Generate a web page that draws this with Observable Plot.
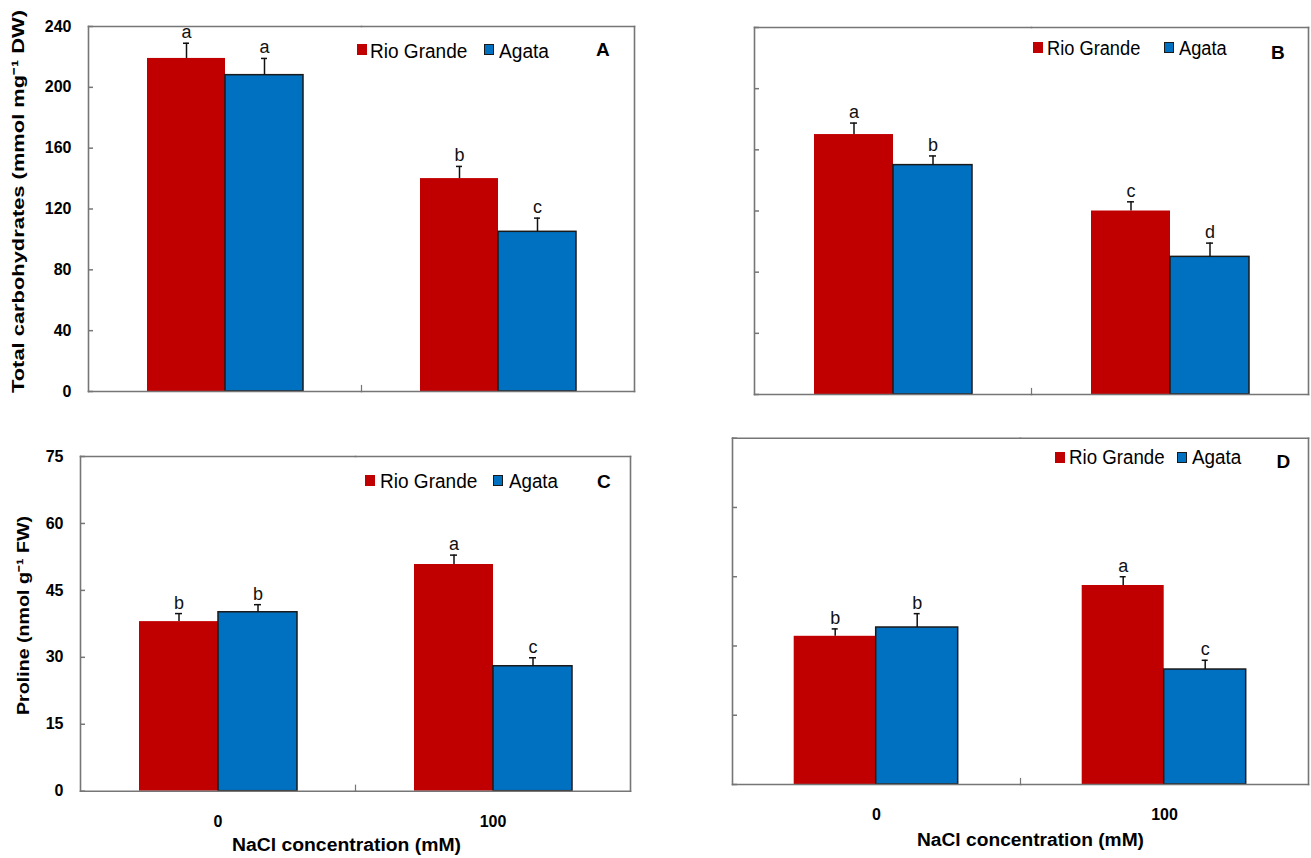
<!DOCTYPE html>
<html>
<head>
<meta charset="utf-8">
<script src="https://cdn.jsdelivr.net/npm/d3@7"></script>
<script src="https://cdn.jsdelivr.net/npm/@observablehq/plot@0.6"></script>
<style>
  body { margin: 0; background: #fff; }
  #root { position: relative; width: 1311px; height: 858px; overflow: hidden; background: #fff;
          font-family: 'Liberation Sans', Arial, sans-serif; }
  .pnl { position: absolute; }
  .pnl svg { display: block; max-width: none; }
</style>
</head>
<body>
<div id="root"></div>
<script>
// ---------------- data ----------------
const groups = ["0", "100"];                  // NaCl concentration (mM)
const cultivars = ["Rio Grande", "Agata"];
const colors = ["#C00000", "#0070C0"];

// order of values: [0 mM Rio Grande, 0 mM Agata, 100 mM Rio Grande, 100 mM Agata]
const carbA_mean = [219, 208, 140, 105];
const carbA_se   = [10, 11, 8, 9];
const carbA_letters = ["a", "a", "b", "c"];

const carbB_mean = [170, 150, 120, 90];
const carbB_se   = [7.5, 6, 6, 9];
const carbB_letters = ["a", "b", "c", "d"];

const proC_mean = [38.0, 40.1, 50.8, 28.0];
const proC_se   = [1.8, 1.7, 2.1, 1.9];
const proC_letters = ["b", "b", "a", "c"];

const proD_mean = [32.1, 34.0, 43.1, 24.9];
const proD_se   = [1.6, 3.0, 1.9, 2.0];
const proD_letters = ["b", "b", "a", "c"];

const carbTicks = [0, 40, 80, 120, 160, 200, 240];
const proTicks  = [0, 15, 30, 45, 60, 75];

const yTitleCarb = "Total carbohydrates (mmol mg\u207B\u00B9 DW)";
const yTitlePro  = "Proline (nmol g\u207B\u00B9 FW)";
const xTitle = "NaCl concentration (mM)";
const panelLetters = ["A", "B", "C", "D"];

// ---------------- helpers ----------------
const FONT = "'Liberation Sans', Arial, sans-serif";
const GRAY = "#767676";
const root = document.getElementById("root");

function rows(mean, se, letters) {
  return mean.map((m, i) => ({
    nacl: groups[Math.floor(i / 2)],
    cultivar: cultivars[i % 2],
    mean: m, se: se[i], letter: letters[i]
  }));
}

function panel(cfg) {
  const [mt, mr, mb, ml] = cfg.m;
  const plotH = cfg.height - mt - mb;
  const data = cfg.data;
  const marks = [
    Plot.barY(data, {filter: d => d.cultivar === cultivars[0], fx: "nacl", x: "cultivar", y: "mean", fill: "cultivar"}),
    Plot.barY(data, {filter: d => d.cultivar === cultivars[1], fx: "nacl", x: "cultivar", y: "mean", fill: "cultivar",
                     stroke: "#1a1a1a", strokeWidth: 1.5}),
    Plot.ruleX(data, {fx: "nacl", x: "cultivar", y1: "mean", y2: d => d.mean + d.se, stroke: "#111", strokeWidth: 1.5}),
    Plot.tickY(data, {fx: "nacl", x: "cultivar", y: d => d.mean + d.se, stroke: "#111", strokeWidth: 1.5,
                      insetLeft: cfg.cap, insetRight: cfg.cap}),
    Plot.text(data, {fx: "nacl", x: "cultivar", y: d => d.mean + d.se, text: "letter", lineAnchor: "bottom",
                     dy: -5, fontSize: 18, fill: "#111"}),
    Plot.axisY({ticks: cfg.ticks, tickSize: 5, dx: 5, fill: "none", stroke: GRAY, strokeWidth: 1.5, label: null}),
    Plot.frame({anchor: "top", stroke: GRAY, strokeWidth: 1.6, clip: false}),
    Plot.frame({anchor: "bottom", stroke: GRAY, strokeWidth: 1.6, clip: false}),
    Plot.frame({anchor: "left", fx: () => groups[0], stroke: GRAY, strokeWidth: 1.6, clip: false}),
    Plot.frame({anchor: "right", fx: () => groups[1], stroke: GRAY, strokeWidth: 1.6, clip: false}),
    Plot.frame({anchor: "right", fx: () => groups[0], insetTop: plotH - 6, stroke: GRAY, strokeWidth: 1.2, clip: false})
  ];
  if (cfg.yLabels) {
    marks.push(Plot.axisY({ticks: cfg.ticks, tickSize: 0, tickPadding: 17, fontSize: 16, fontWeight: "bold",
                           fill: "black", label: null}));
  }
  if (cfg.xLabels) {
    marks.push(Plot.axisFx({anchor: "bottom", tickSize: 0, tickPadding: 24, fontSize: 16, fontWeight: "bold",
                            fill: "black", label: null}));
  }
  const svg = Plot.plot({
    width: cfg.width, height: cfg.height,
    marginTop: mt, marginRight: mr, marginBottom: mb, marginLeft: ml,
    style: {fontFamily: FONT, background: "transparent", overflow: "visible"},
    fx: {domain: groups, padding: 0, axis: null},
    x: {domain: cultivars, paddingInner: 0, paddingOuter: 0.74, axis: null},
    y: {domain: cfg.domain, axis: null},
    color: {domain: cultivars, range: colors},
    marks
  });
  const div = document.createElement("div");
  div.className = "pnl";
  Object.assign(div.style, {left: cfg.left + "px", top: cfg.top + "px", width: cfg.width + "px", height: cfg.height + "px"});
  div.appendChild(svg);
  root.appendChild(div);
}

function addText(str, {x, baseline, size, weight = "normal", width = null, anchor = "start"}) {
  const el = document.createElement("div");
  el.textContent = str;
  Object.assign(el.style, {position: "absolute", whiteSpace: "nowrap", fontFamily: FONT, fontSize: size + "px",
    fontWeight: weight, lineHeight: "1", left: "0px", top: (baseline - 0.8465 * size) + "px",
    transformOrigin: "0 0", color: "#000"});
  root.appendChild(el);
  const w = el.getBoundingClientRect().width;
  const target = width || w;
  const left = anchor === "middle" ? x - target / 2 : x;
  el.style.left = left + "px";
  el.style.transform = `scaleX(${target / w})`;
}

function addVText(str, {cx, cy, size, weight = "bold", length}) {
  const el = document.createElement("div");
  el.textContent = str;
  Object.assign(el.style, {position: "absolute", whiteSpace: "nowrap", fontFamily: FONT, fontSize: size + "px",
    fontWeight: weight, lineHeight: "1", left: "0px", top: "0px", color: "#000"});
  root.appendChild(el);
  const w = el.getBoundingClientRect().width;
  el.style.left = (cx - 0.1 * size - w / 2) + "px";
  el.style.top = (cy - size / 2) + "px";
  el.style.transformOrigin = "50% 50%";
  el.style.transform = `rotate(-90deg) scaleX(${length / w})`;
}

function addSquare(x, y, color, border) {
  const el = document.createElement("div");
  Object.assign(el.style, {position: "absolute", left: x + "px", top: y + "px", width: "10px", height: border ? "11px" : "10.5px",
    background: color, boxSizing: "border-box", border: border ? "1px solid #1a1a1a" : "none"});
  root.appendChild(el);
}

function legend(L) {
  addSquare(L.rx, L.ry, colors[0], false);
  addText(cultivars[0], {x: L.rtx, baseline: L.bl, size: 20, width: L.rw});
  addSquare(L.bx, L.ry, colors[1], true);
  addText(cultivars[1], {x: L.btx, baseline: L.bl, size: 20, width: L.bw});
  addText(L.letter, {x: L.lx, baseline: L.lbl, size: 19, weight: "bold"});
}

// ---------------- panels ----------------
panel({data: rows(carbA_mean, carbA_se, carbA_letters), left: 0, top: 0, width: 660, height: 420,
       m: [26, 26, 29, 87], domain: [0, 240], ticks: carbTicks, yLabels: true, xLabels: false, cap: 36});
panel({data: rows(carbB_mean, carbB_se, carbB_letters), left: 660, top: 0, width: 651, height: 420,
       m: [27, 2.5, 26, 94], domain: [0, 240], ticks: carbTicks, yLabels: false, xLabels: false, cap: 36});
panel({data: rows(proC_mean, proC_se, proC_letters), left: 0, top: 430, width: 660, height: 428,
       m: [26, 29.5, 67.3, 79], domain: [0, 75], ticks: proTicks, yLabels: true, xLabels: true, cap: 36});
panel({data: rows(proD_mean, proD_se, proD_letters), left: 660, top: 430, width: 651, height: 428,
       m: [7.7, 2.5, 74, 72.3], domain: [0, 75], ticks: proTicks, yLabels: false, xLabels: true, cap: 38});

// legends and panel letters
legend({rx: 357.3, ry: 44.3, rtx: 370.2, rw: 97.3, bx: 484, btx: 498.5, bw: 50, bl: 57.7, letter: panelLetters[0], lx: 596, lbl: 56});
legend({rx: 1032.7, ry: 42, rtx: 1046.8, rw: 93.3, bx: 1164, btx: 1179, bw: 47.7, bl: 55.3, letter: panelLetters[1], lx: 1271, lbl: 58.7});
legend({rx: 365, ry: 475, rtx: 380.2, rw: 97.3, bx: 493.3, btx: 509, bw: 49, bl: 488.3, letter: panelLetters[2], lx: 597, lbl: 488.3});
legend({rx: 1055, ry: 452.3, rtx: 1069.2, rw: 95.6, bx: 1176.7, btx: 1191.5, bw: 49.3, bl: 464, letter: panelLetters[3], lx: 1276.6, lbl: 468.3});

// axis titles
addVText(yTitleCarb, {cx: 20.5, cy: 201.5, size: 17, length: 383});
addVText(yTitlePro, {cx: 24.5, cy: 615.5, size: 17, length: 199});
addText(xTitle, {x: 346.5, baseline: 851.3, size: 18, weight: "bold", width: 229, anchor: "middle"});
addText(xTitle, {x: 1030.8, baseline: 846, size: 18, weight: "bold", width: 227, anchor: "middle"});
</script>
</body>
</html>
